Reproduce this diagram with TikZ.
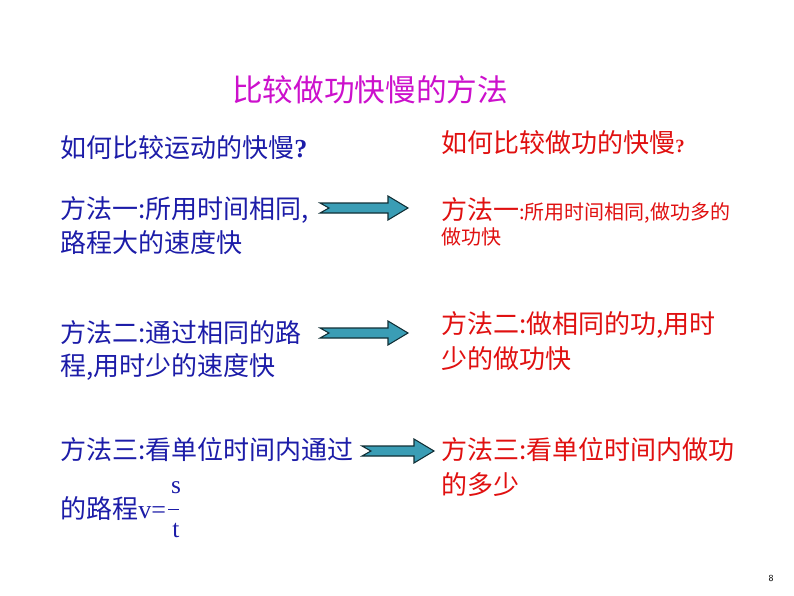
\documentclass[tikz,border=0pt]{standalone}
\usepackage{fontspec}
\setmainfont{Noto Sans CJK SC}
\newfontfamily\lat{Liberation Serif}
\definecolor{tblue}{HTML}{1C1CA8}
\definecolor{tred}{HTML}{E01010}
\definecolor{tmag}{HTML}{CC10CC}
\definecolor{afill}{HTML}{3A9DB5}
\tikzset{
 lt/.style={anchor=west,text=tblue,font=\fontsize{19.5}{22}\selectfont,inner sep=0},
 rt/.style={anchor=west,text=tred,font=\fontsize{19.5}{22}\selectfont,inner sep=0},
 fatarrow/.style={fill=afill,draw=black!70!afill,line width=0.8pt}
}
\newcommand{\fatarr}[3]{% x0 x1 y
 \draw[fatarrow] (#1,#3-5) -- (#2-20,#3-5) -- (#2-20,#3-12) -- (#2,#3) -- (#2-20,#3+12) -- (#2-20,#3+5) -- (#1,#3+5) -- (#1+9,#3) -- cycle;}
\begin{document}
\begin{tikzpicture}[x=0.75pt,y=-0.75pt]
\useasboundingbox (0,0) rectangle (794,596);
\node[anchor=west,text=tmag,font=\fontsize{23}{26}\selectfont,inner sep=0] (title) at (232,90) {比较做功快慢的方法};
\node[lt] (q1) at (60,148) {如何比较运动的快慢{\lat\bfseries ?}};
\node[lt] (l1a) at (60,210) {方法一:所用时间相同,};
\node[lt] (l1b) at (60,243) {路程大的速度快};
\node[lt] (l2a) at (60,333) {方法二:通过相同的路};
\node[lt] (l2b) at (60,367) {程,用时少的速度快};
\node[lt] (l3a) at (60,450) {方法三:看单位时间内通过};
\node[lt] (l3b) at (60,509) {的路程{\lat v=}};
\node[anchor=center,text=tblue,font=\lat\fontsize{19}{20}\selectfont,inner sep=0] (s) at (176,488) {s};
\draw[tblue,line width=0.6pt] (168,509) -- (179,509);
\node[anchor=center,text=tblue,font=\lat\fontsize{19}{20}\selectfont,inner sep=0] (t) at (176,530) {t};
\node[rt] (q2) at (441,143) {如何比较做功的快慢{\lat\bfseries\fontsize{14}{15}\selectfont ?}};
\node[rt] (r1a) at (441,210) {方法一{\fontsize{15}{16}\selectfont :所用时间相同,做功多的}};
\node[rt,font=\fontsize{15}{16}\selectfont] (r1b) at (441,237) {做功快};
\node[rt] (r2a) at (441,325) {方法二:做相同的功,用时};
\node[rt] (r2b) at (441,359) {少的做功快};
\node[rt] (r3a) at (441,450) {方法三:看单位时间内做功};
\node[rt] (r3b) at (441,485) {的多少};
\fatarr{320}{408}{208}
\fatarr{320}{408}{333}
\fatarr{362}{434}{451}
\node[font=\sffamily\fontsize{7}{8}\selectfont,inner sep=0] (pg) at (771,578) {8};
\end{tikzpicture}
\end{document}
